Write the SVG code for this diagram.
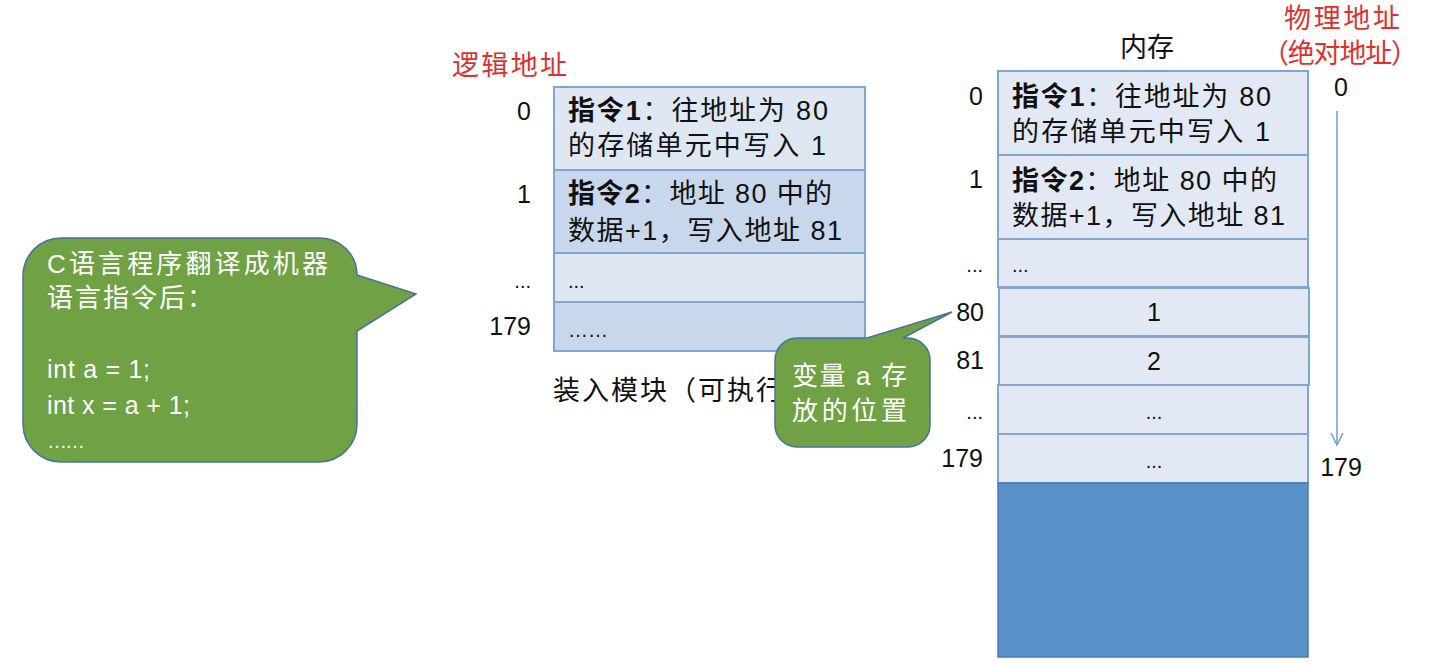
<svg xmlns="http://www.w3.org/2000/svg" width="1439" height="664" viewBox="0 0 1439 664">
<style>
  text { font-family: "Liberation Sans", "Noto Sans CJK SC", sans-serif; fill: #111; }
  .cjk { font-size: 27px; }
  .num { font-size: 25px; }
  .red { fill: #e0302c; font-size: 27px; }
  .white { fill: #ffffff; font-size: 26px; }
  .code { fill: #ffffff; font-size: 25px; }
  .cell { stroke: #7fa6d3; stroke-width: 2; }
  .light { fill: #dfe7f3; }
  .dark { fill: #c8d7eb; }
  .mem { fill: #e2e9f4; }
  .bubble { fill: #70a144; stroke: #46739e; stroke-width: 1.5; }
  .dots { font-size: 20px; }
</style>
<rect width="1439" height="664" fill="#ffffff"/>

<!-- left speech bubble -->
<g id="bubble-c">
  <path class="bubble" d="M61 238 H320 A37 37 0 0 1 357 275 L416 294 L357 331 V424 A38 38 0 0 1 319 462 H61 A38 38 0 0 1 23 424 V276 A38 38 0 0 1 61 238 Z"/>
  <text class="white" x="47" y="273" textLength="281" lengthAdjust="spacing">C语言程序翻译成机器</text>
  <text class="white" x="47" y="307" textLength="166" lengthAdjust="spacing">语言指令后：</text>
  <text class="code" x="47" y="378" textLength="103" lengthAdjust="spacing">int a = 1;</text>
  <text class="code" x="47" y="414" textLength="143" lengthAdjust="spacing">int x = a + 1;</text>
  <text class="code" x="47" y="448" textLength="38" lengthAdjust="spacing" style="font-size:20px">……</text>
</g>

<!-- logical address table -->
<g id="logical-module">
  <text class="red" x="452" y="75" textLength="115" lengthAdjust="spacing">逻辑地址</text>
  <rect class="cell light" x="554" y="87" width="311" height="83"/>
  <rect class="cell dark" x="554" y="170" width="311" height="83"/>
  <rect class="cell light" x="554" y="253" width="311" height="49"/>
  <rect class="cell dark" x="554" y="302" width="311" height="49"/>
  <text class="cjk" x="568" y="120" textLength="260" lengthAdjust="spacing"><tspan font-weight="bold">指令1</tspan>：往地址为 80</text>
  <text class="cjk" x="568" y="155" textLength="258" lengthAdjust="spacing">的存储单元中写入 1</text>
  <text class="cjk" x="568" y="203" textLength="264" lengthAdjust="spacing"><tspan font-weight="bold">指令2</tspan>：地址 80 中的</text>
  <text class="cjk" x="568" y="240" textLength="274" lengthAdjust="spacing">数据+1，写入地址 81</text>
  <text class="dots" x="568" y="288">...</text>
  <text class="dots" x="568" y="337">……</text>
  <text class="num" x="531" y="120" text-anchor="end">0</text>
  <text class="num" x="531" y="203" text-anchor="end">1</text>
  <text class="dots" x="531" y="288" text-anchor="end">...</text>
  <text class="num" x="531" y="335" text-anchor="end">179</text>
  <text class="cjk" x="553" y="400" textLength="230" lengthAdjust="spacing">装入模块（可执行</text>
</g>

<!-- small speech bubble -->
<g id="bubble-a">
  <path class="bubble" d="M797 338 H867 L952 312 L903 338 H908 A22 22 0 0 1 930 360 V425 A22 22 0 0 1 908 447 H797 A22 22 0 0 1 775 425 V360 A22 22 0 0 1 797 338 Z"/>
  <text class="white" x="792" y="385" textLength="115" lengthAdjust="spacing">变量 a 存</text>
  <text class="white" x="792" y="420" textLength="115" lengthAdjust="spacing">放的位置</text>
</g>

<!-- memory -->
<g id="memory">
  <text class="cjk" x="1147" y="57" text-anchor="middle">内存</text>
  <rect class="cell mem" x="998" y="71" width="310" height="84"/>
  <rect class="cell mem" x="998" y="155" width="310" height="84"/>
  <rect class="cell mem" x="998" y="239" width="310" height="48"/>
  <rect class="cell mem" x="999" y="288" width="310" height="48"/>
  <rect class="cell mem" x="999" y="337" width="310" height="48"/>
  <rect class="cell mem" x="998" y="385" width="310" height="49"/>
  <rect class="cell mem" x="998" y="434" width="310" height="49"/>
  <rect x="998" y="483" width="310" height="174" fill="#5892c8" stroke="#4a7bb0" stroke-width="1.5"/>
  <text class="cjk" x="1012" y="106" textLength="259" lengthAdjust="spacing"><tspan font-weight="bold">指令1</tspan>：往地址为 80</text>
  <text class="cjk" x="1012" y="141" textLength="258" lengthAdjust="spacing">的存储单元中写入 1</text>
  <text class="cjk" x="1012" y="190" textLength="265" lengthAdjust="spacing"><tspan font-weight="bold">指令2</tspan>：地址 80 中的</text>
  <text class="cjk" x="1012" y="225" textLength="273" lengthAdjust="spacing">数据+1，写入地址 81</text>
  <text class="dots" x="1012" y="272">...</text>
  <text class="num" x="1154" y="321" text-anchor="middle">1</text>
  <text class="num" x="1154" y="370" text-anchor="middle">2</text>
  <text class="dots" x="1154" y="419" text-anchor="middle">...</text>
  <text class="dots" x="1154" y="468" text-anchor="middle">...</text>
  <text class="num" x="983" y="105" text-anchor="end">0</text>
  <text class="num" x="983" y="188" text-anchor="end">1</text>
  <text class="dots" x="983" y="272" text-anchor="end">...</text>
  <text class="num" x="984" y="321" text-anchor="end">80</text>
  <text class="num" x="984" y="369" text-anchor="end">81</text>
  <text class="dots" x="983" y="419" text-anchor="end">...</text>
  <text class="num" x="983" y="467" text-anchor="end">179</text>
</g>

<!-- physical address labels -->
<g id="physical-address">
  <text class="red" x="1284" y="28" textLength="116" lengthAdjust="spacing">物理地址</text>
  <text class="red" x="1262" y="63" textLength="156" lengthAdjust="spacing">（绝对地址）</text>
  <text class="num" x="1341" y="96" text-anchor="middle">0</text>
  <text class="num" x="1341" y="476" text-anchor="middle">179</text>
</g>

<g id="connectors">
  <line x1="1337" y1="111" x2="1337" y2="444" stroke="#6e9bd0" stroke-width="1.5"/>
  <path d="M1331 433 L1337 445 L1343 433" fill="none" stroke="#6e9bd0" stroke-width="1.5"/>
</g>
</svg>
